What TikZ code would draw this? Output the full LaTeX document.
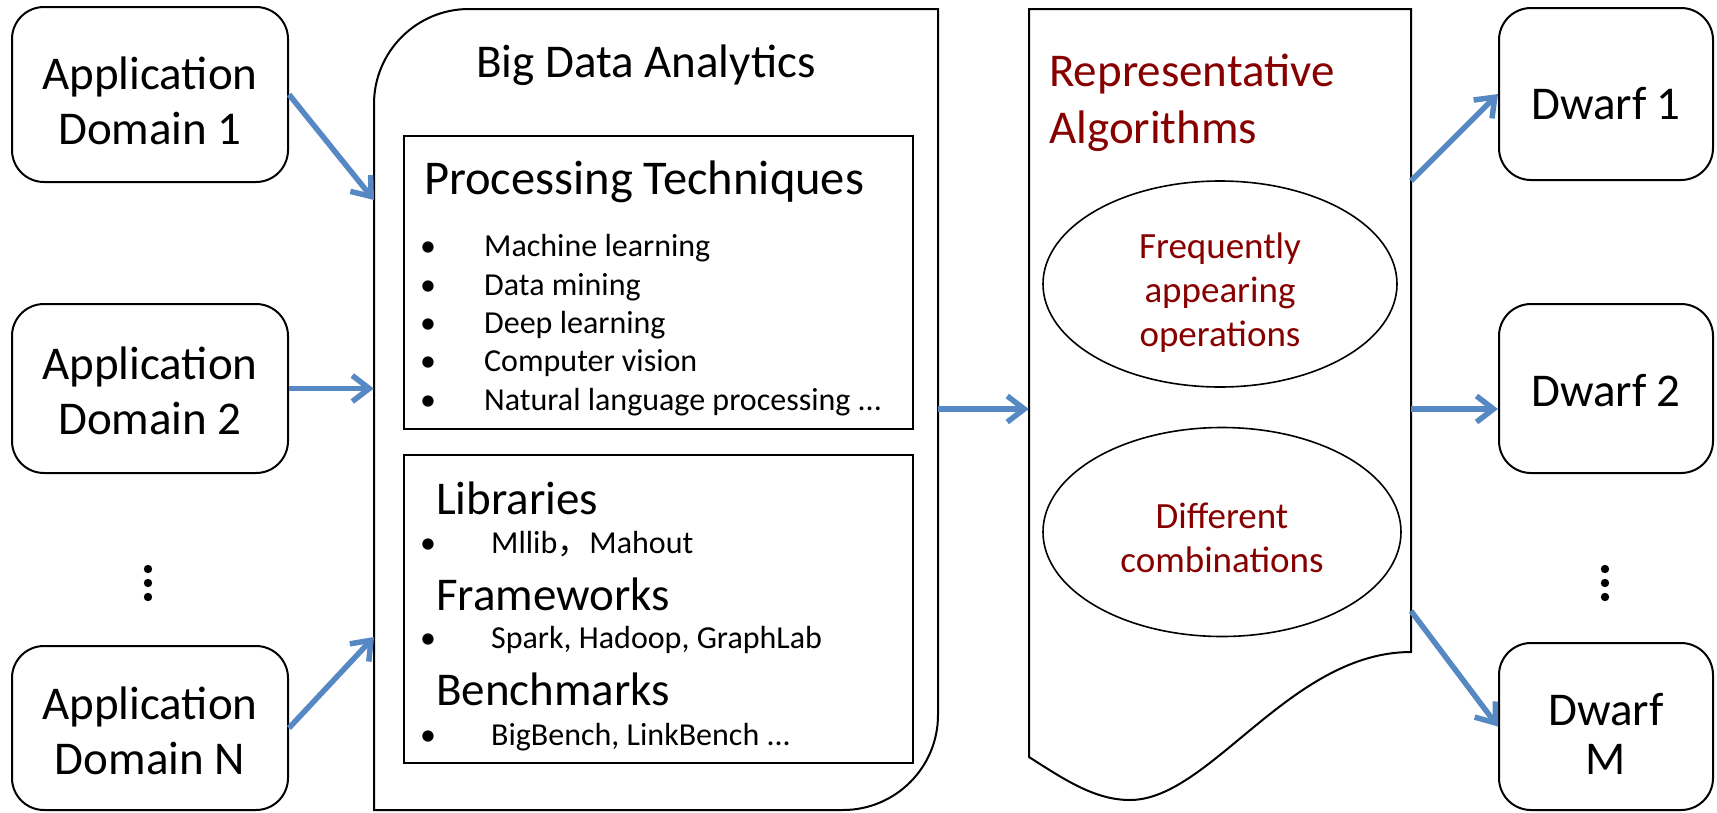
\documentclass[tikz,border=0pt]{standalone}
\usepackage{fontspec}
\setmainfont{Carlito}
\newfontfamily\cjk{Noto Sans CJK SC}
\usetikzlibrary{arrows.meta,shapes.geometric,calc}
\definecolor{arrowblue}{RGB}{86,136,195}
\definecolor{repred}{RGB}{135,0,0}
\begin{document}
\begin{tikzpicture}[x=1pt,y=-1pt,
  box/.style={draw=black,line width=2pt,rounded corners=32pt,fill=white,inner sep=0pt},
  boxtxt/.style={align=center,font=\fontsize{47}{55}\selectfont,inner sep=0pt},
  frame/.style={draw=black,line width=2pt},
  conn/.style={draw=arrowblue,line width=5.5pt,-{Straight Barb[length=17pt,width=26pt]}},
  bigtxt/.style={font=\fontsize{47}{55}\selectfont,inner sep=0pt},
  pttxt/.style={font=\fontsize{48.5}{58}\selectfont,inner sep=0pt,anchor=base west},
  itemtxt/.style={font=\fontsize{32}{38}\selectfont,inner sep=0pt,anchor=base west},
  redtxt/.style={text=repred,font=\fontsize{47}{55}\selectfont,inner sep=0pt,anchor=base west},
  oval/.style={ellipse,draw=black,line width=1.6pt,fill=white,inner sep=0pt},
  ovaltxt/.style={text=repred,align=center,font=\fontsize{37}{44}\selectfont,inner sep=0pt},
  dot/.style={fill=black}
]
\path[fill=white,use as bounding box] (0,0) rectangle (1717,812);

% application domains
\node[box,minimum width=276pt,minimum height=175pt] (app1) at (150,94.5) {};
\node[boxtxt] (app1t) at ($(app1)+(0,6)$) {Application\\Domain 1};
\node[box,minimum width=276pt,minimum height=169pt] (app2) at (150,388.5) {};
\node[boxtxt] (app2t) at ($(app2)+(0,2.5)$) {Application\\Domain 2};
\node[box,minimum width=276pt,minimum height=164pt] (appN) at (150,728) {};
\node[boxtxt] (appNt) at ($(appN)+(0,2.5)$) {Application\\Domain N};
\fill[dot] (148,569) circle (4.2);
\fill[dot] (148,583) circle (4.2);
\fill[dot] (148,597) circle (4.2);

% big data analytics container
\node[minimum width=564pt,minimum height=801pt,inner sep=0pt] (bda) at (656,409.5) {};
\draw[frame] (374,810) -- (374,104) arc[start angle=180,end angle=270,radius=95]
  -- (938,9) -- (938,715) arc[start angle=0,end angle=90,radius=95] -- cycle;
\node[bigtxt,anchor=base] (bdat) at (646,77) {Big Data Analytics};

\node[frame,minimum width=509pt,minimum height=293pt,inner sep=0pt] (ptbox) at (658.5,282.5) {};
\node[pttxt] (ptt) at (424,194) {Processing Techniques};
\node[itemtxt] (i1) at (420,256) {\makebox[64pt][l]{•}Machine learning};
\node[itemtxt] (i2) at (420,295) {\makebox[64pt][l]{•}Data mining};
\node[itemtxt] (i3) at (420,333) {\makebox[64pt][l]{•}Deep learning};
\node[itemtxt] (i4) at (420,371) {\makebox[64pt][l]{•}Computer vision};
\node[itemtxt] (i5) at (420,410) {\makebox[64pt][l]{•}Natural language processing .{}.{}.};

\node[frame,minimum width=509pt,minimum height=308pt,inner sep=0pt] (libbox) at (658.5,609) {};
\node[bigtxt,anchor=base west] (libt) at (436,514) {Libraries};
\node[itemtxt] (l1) at (420,553) {\makebox[71pt][l]{•}Mllib{\cjk ，}Mahout};
\node[bigtxt,anchor=base west] (frt) at (436,610) {Frameworks};
\node[itemtxt] (f1) at (420,648) {\makebox[71pt][l]{•}Spark, Hadoop, GraphLab};
\node[bigtxt,anchor=base west] (bmt) at (436,705) {Benchmarks};
\node[itemtxt] (b1) at (420,745) {\makebox[71pt][l]{•}BigBench, LinkBench .{}.{}.};

% representative algorithms
\node[minimum width=382pt,minimum height=748pt,inner sep=0pt] (rep) at (1220,383) {};
\draw[frame] (1029,757) -- (1029,9) -- (1411,9) -- (1411,652)
  .. controls (1290,652) and (1210,800) .. (1130,800)
  .. controls (1095,800) and (1065,780) .. (1029,757) -- cycle;
\node[redtxt] (rt1) at (1049,86) {Representative};
\node[redtxt] (rt2) at (1049,143) {Algorithms};
\node[oval,minimum width=354pt,minimum height=206pt] (e1) at (1220,284) {};
\node[ovaltxt] (e1t) at ($(e1)+(0,9)$) {Frequently\\appearing\\operations};
\node[oval,minimum width=358pt,minimum height=209pt] (e2) at (1222,532) {};
\node[ovaltxt] (e2t) at ($(e2)+(0,6)$) {Different\\combinations};

% dwarfs
\node[box,minimum width=214pt,minimum height=172pt] (d1) at (1606,94) {};
\node[boxtxt] (d1t) at ($(d1)+(0,10)$) {Dwarf 1};
\node[box,minimum width=214pt,minimum height=169pt] (d2) at (1606,388.5) {};
\node[boxtxt] (d2t) at ($(d2)+(0,2)$) {Dwarf 2};
\node[box,minimum width=214pt,minimum height=167pt] (dM) at (1606,726.5) {};
\node[boxtxt,font=\fontsize{47}{49}\selectfont] (dMt) at ($(dM)+(0,7)$) {Dwarf\\M};
\fill[dot] (1605,569) circle (4.2);
\fill[dot] (1605,583) circle (4.2);
\fill[dot] (1605,597) circle (4.2);

% connectors
\coordinate (bin1) at (374,200);
\coordinate (binN) at (374,637);
\coordinate (bout) at (938,409);
\coordinate (r1) at (1411,181);
\coordinate (r2) at (1411,409);
\coordinate (r3) at (1411,611);
\draw[conn] (app1.east) -- (bin1);
\draw[conn] (app2.east) -- (app2.east -| bda.west);
\draw[conn] (appN.east) -- (binN);
\draw[conn] (bout) -- (bout -| rep.west);
\draw[conn] (r1) -- (d1.west);
\draw[conn] (r2) -- (r2 -| d2.west);
\draw[conn] (r3) -- (dM.west);
\end{tikzpicture}
\end{document}
